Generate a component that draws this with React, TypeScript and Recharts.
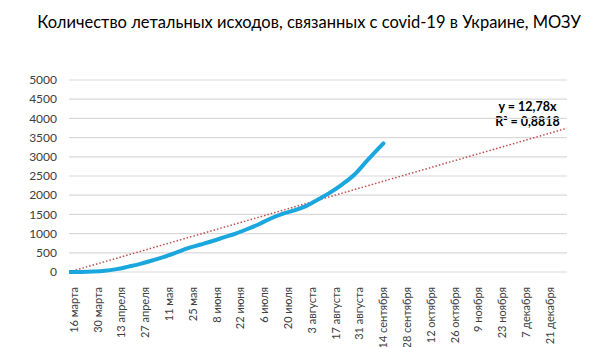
import { CartesianGrid, Line, LineChart, XAxis, YAxis } from "recharts";

// days since 16 March and cumulative deaths
const dayIndex = [
  0, 7, 14, 21, 28, 35, 42, 49, 56, 63, 70, 77, 84, 91, 98, 105, 112, 119, 126,
  133, 140, 147, 154, 161, 168, 175, 182, 185,
];
const deaths = [
  0, 2, 10, 30, 75, 140, 210, 300, 395, 505, 620, 710, 800, 900, 1000, 1120,
  1250, 1400, 1520, 1610, 1730, 1900, 2080, 2290, 2540, 2880, 3210, 3350,
];

const tickLabels = [
  "16 марта", "30 марта", "13 апреля", "27 апреля", "11 мая", "25 мая",
  "8 июня", "22 июня", "6 июля", "20 июля", "3 августа", "17 августа",
  "31 августа", "14 сентября", "28 сентября", "12 октября", "26 октября",
  "9 ноября", "23 ноября", "7 декабря", "21 декабря",
];
const tickDays = tickLabels.map((_, i) => i * 14);
const yTicks = [0, 500, 1000, 1500, 2000, 2500, 3000, 3500, 4000, 4500, 5000];

const lastDay = 293;
const trendSlope = 12.78;
const trendDays = [0, lastDay];

const data = dayIndex.map((day, i) => ({ day, deaths: deaths[i] }));
const trendData = trendDays.map((day) => ({ day, trend: day * trendSlope }));

const FONT = "Lato, 'Open Sans', sans-serif";

function DateTick({ x, y, payload }: any) {
  const label = tickLabels[tickDays.indexOf(payload.value)] ?? "";
  return (
    <g transform={`translate(${x + 5},${y})`}>
      <text
        transform="rotate(-90)"
        textAnchor="end"
        x={-7}
        dy="0.35em"
        fontSize={11}
        fontFamily={FONT}
        fill="#404040"
      >
        {label}
      </text>
    </g>
  );
}

export default function App() {
  return (
    <div
      style={{
        position: "absolute",
        left: 0,
        top: 0,
        width: 610,
        height: 347,
        background: "#fff",
        fontFamily: FONT,
      }}
    >
      <div
        style={{
          position: "absolute",
          top: 12,
          left: 0,
          width: 618,
          textAlign: "center",
          fontSize: 16.5,
          color: "#000",
        }}
      >
        Количество летальных исходов, связанных с covid-19 в Украине, МОЗУ
      </div>
      <div
        style={{
          position: "absolute",
          top: 99,
          left: 470,
          width: 115,
          textAlign: "center",
          fontSize: 12.5,
          fontWeight: 700,
          lineHeight: "15px",
          color: "#000",
        }}
      >
        y = 12,78x
        <br />
        R² = 0,8818
      </div>
      <LineChart
        width={610}
        height={347}
        data={data}
        margin={{ top: 80, right: 43, bottom: 0, left: 9 }}
      >
        <CartesianGrid vertical={false} stroke="#d9d9d9" strokeWidth={1.2} />
        <XAxis
          dataKey="day"
          type="number"
          domain={[0, lastDay]}
          ticks={tickDays}
          interval={0}
          tick={<DateTick />}
          tickLine={false}
          axisLine={false}
          height={75}
          allowDataOverflow
        />
        <YAxis
          domain={[0, 5000]}
          ticks={yTicks}
          interval={0}
          width={60}
          tickLine={false}
          axisLine={false}
          tickSize={0}
          tickMargin={12}
          tick={{ fontSize: 12, fontFamily: FONT, fill: "#404040" }}
        />
        <Line
          data={trendData}
          dataKey="trend"
          type="linear"
          stroke="#c0504d"
          strokeWidth={1.5}
          strokeDasharray="1.5 2"
          dot={false}
          isAnimationActive={false}
        />
        <Line
          dataKey="deaths"
          type="monotone"
          stroke="#1aa7de"
          strokeWidth={4}
          strokeLinecap="round"
          dot={false}
          isAnimationActive={false}
        />
      </LineChart>
    </div>
  );
}
